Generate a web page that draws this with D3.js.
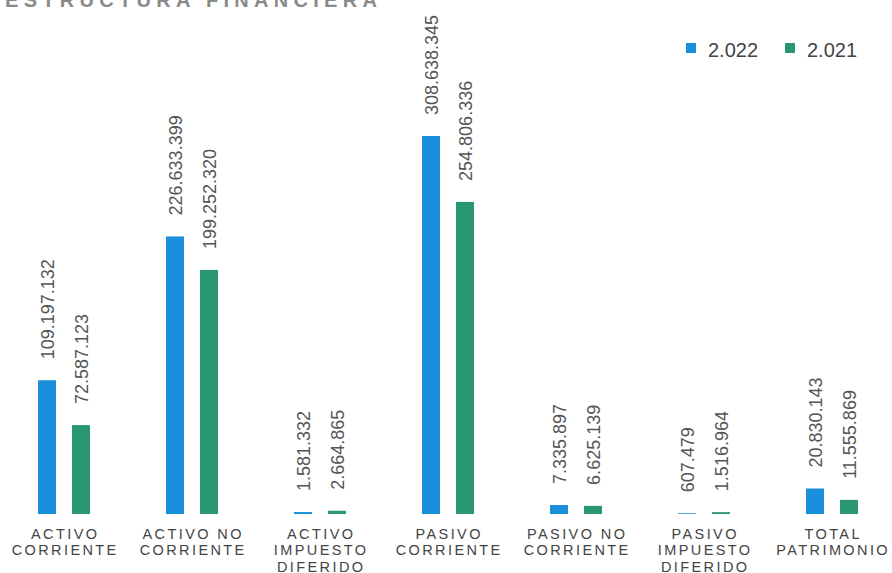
<!DOCTYPE html>
<html>
<head>
<meta charset="utf-8">
<script src="https://cdn.jsdelivr.net/npm/d3@7"></script>
<style>
  html, body { margin: 0; padding: 0; background: #fff; }
  svg { display: block; font-family: "Liberation Sans", Arial, sans-serif; }
</style>
</head>
<body>
<svg id="chart" width="892" height="573"></svg>
<script>
const categories = [
  ["ACTIVO", "CORRIENTE"],
  ["ACTIVO NO", "CORRIENTE"],
  ["ACTIVO", "IMPUESTO", "DIFERIDO"],
  ["PASIVO", "CORRIENTE"],
  ["PASIVO NO", "CORRIENTE"],
  ["PASIVO", "IMPUESTO", "DIFERIDO"],
  ["TOTAL", "PATRIMONIO"]
];
const seriesNames = ["2.022", "2.021"];
const values2022 = [109197132, 226633399, 1581332, 308638345, 7335897, 607479, 20830143];
const values2021 = [72587123, 199252320, 2664865, 254806336, 6625139, 1516964, 11555869];
const colors = ["#1b8fdc", "#2a9773"];
const title = "ESTRUCTURA FINANCIERA";

const svg = d3.select("#chart");
const catKeys = categories.map(c => c.join(" "));
const seriesValues = [values2022, values2021];

const x0 = d3.scaleBand().domain(catKeys).range([0, 896]).paddingInner(0.594).paddingOuter(0.297);
const x1 = d3.scaleBand().domain(seriesNames).range([0, x0.bandwidth()]).paddingInner(0.47);
const maxV = d3.max([...values2022, ...values2021]);
const y = d3.scaleLinear().domain([0, maxV]).range([514, 136]);

const fmt = v => d3.format(",")(v).replace(/,/g, ".");

// Title (cut off at top, as in the reference)
svg.append("text")
  .attr("x", 5).attr("y", 7)
  .attr("font-size", 20).attr("font-weight", "bold")
  .attr("letter-spacing", 5.3)
  .attr("fill", "#8a8a8a")
  .text(title);

// Bars
const groups = svg.selectAll("g.grp")
  .data(catKeys)
  .join("g").attr("class", "grp")
  .attr("transform", d => `translate(${x0(d)},0)`);

groups.each(function(cat, i) {
  const g = d3.select(this);
  seriesNames.forEach((s, si) => {
    const v = seriesValues[si][i];
    const bx = x1(s);
    g.append("rect")
      .attr("x", bx).attr("width", x1.bandwidth())
      .attr("y", y(v)).attr("height", y(0) - y(v))
      .attr("fill", colors[si]);
    const cx = bx + x1.bandwidth() / 2 + 7;
    const ty = y(v) - 21;
    g.append("text")
      .attr("transform", `translate(${cx},${ty}) rotate(-90)`)
      .attr("font-size", 18)
      .attr("fill", "#555")
      .attr("text-anchor", "start")
      .text(fmt(v));
  });
});

// Category labels
categories.forEach((lines, i) => {
  const cx = x0(catKeys[i]) + x0.bandwidth() / 2;
  const t = svg.append("text")
    .attr("text-anchor", "middle")
    .attr("font-size", 14.5)
    .attr("letter-spacing", 2.4)
    .attr("fill", "#444");
  lines.forEach((ln, li) => {
    t.append("tspan").attr("x", cx + 1.2).attr("y", 538.5 + li * 16.8).text(ln);
  });
});

// Legend
const legend = svg.append("g");
const legendX = [686, 785];
seriesNames.forEach((s, si) => {
  legend.append("rect")
    .attr("x", legendX[si]).attr("y", 43).attr("width", 10).attr("height", 10)
    .attr("fill", colors[si]);
  legend.append("text")
    .attr("x", legendX[si] + 22).attr("y", 57)
    .attr("font-size", 20).attr("fill", "#444")
    .text(s);
});
</script>
</body>
</html>
